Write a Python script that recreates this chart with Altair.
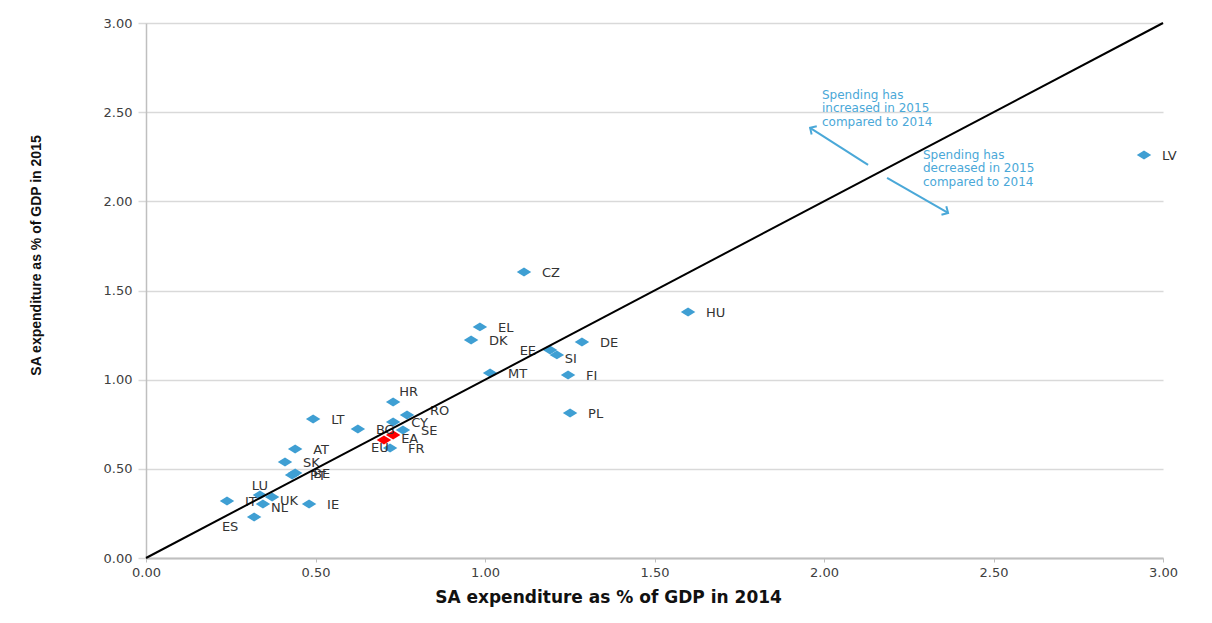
import altair as alt
import pandas as pd

countries = ["LV", "CZ", "HU", "EL", "DK", "DE", "EE", "SI", "MT", "FI", "PL",
             "HR", "RO", "CY", "SE", "BG", "EU", "EA", "FR", "LT", "AT", "SK",
             "PT", "BE", "LU", "UK", "IT", "NL", "IE", "ES"]
exp_2014 = [2.944, 1.115, 1.599, 0.985, 0.959, 1.286, 1.192, 1.212, 1.015, 1.245, 1.251,
            0.729, 0.770, 0.729, 0.758, 0.625, 0.702, 0.729, 0.720, 0.493, 0.440, 0.410,
            0.431, 0.440, 0.336, 0.372, 0.239, 0.345, 0.481, 0.319]
exp_2015 = [2.260, 1.604, 1.380, 1.296, 1.223, 1.211, 1.167, 1.139, 1.038, 1.026, 0.813,
            0.875, 0.802, 0.763, 0.718, 0.723, 0.662, 0.690, 0.617, 0.780, 0.611, 0.538,
            0.466, 0.477, 0.353, 0.342, 0.320, 0.303, 0.303, 0.230]
group = ["country"] * 16 + ["aggregate", "aggregate"] + ["country"] * 12
label_pos = ["right", "right", "right", "right", "right", "right", "left", "near", "right", "right", "right",
             "aboveright", "upright", "right", "right", "right", "belowleft", "near", "right", "right", "right", "right",
             "right", "right", "above", "near", "right", "near", "right", "farbelowleft"]

diag_x = [0, 3]
diag_y = [0, 3]

arrow_x1 = [2.130, 2.186]
arrow_y1 = [2.204, 2.131]
arrow_x2 = [1.959, 2.366]
arrow_y2 = [2.412, 1.935]
arrow_dir = ["up", "down"]

note_x = [1.994, 2.292]
note_y = [2.625, 2.290]
note_text = ["Spending has\nincreased in 2015\ncompared to 2014",
             "Spending has\ndecreased in 2015\ncompared to 2014"]

df = pd.DataFrame({"country": countries, "x": exp_2014, "y": exp_2015,
                   "group": group, "pos": label_pos})
diag = pd.DataFrame({"x": diag_x, "y": diag_y})
arrows = pd.DataFrame({"x": arrow_x1, "y": arrow_y1, "x2": arrow_x2, "y2": arrow_y2, "dir": arrow_dir})
notes = pd.DataFrame({"x": note_x, "y": note_y, "text": note_text})

BLUE = "#3f9fd3"
NOTE = "#4aa8d8"
xs = alt.Scale(domain=[0, 3], nice=False)
ys = alt.Scale(domain=[0, 3], nice=False)
ticks = [0, 0.5, 1, 1.5, 2, 2.5, 3]

xenc = alt.X("x:Q", scale=xs, axis=alt.Axis(
    values=ticks, format=".2f", grid=False, title="SA expenditure as % of GDP in 2014",
    domainColor="#bfbfbf", domainWidth=2, tickColor="#bfbfbf", tickSize=4, labelFlush=False,
    labelFont="DejaVu Sans", labelFontSize=13, labelColor="#404040", labelPadding=4,
    titleFont="DejaVu Sans", titleFontSize=17, titleFontWeight="bold", titleColor="#111111",
    titlePadding=10, titleX=462))
yenc = alt.Y("y:Q", scale=ys, axis=alt.Axis(
    values=ticks, format=".2f", grid=True, gridColor="#d9d9d9", gridWidth=1.5, labelFlush=False,
    title="SA expenditure as % of GDP in 2015",
    domainColor="#bfbfbf", domainWidth=1.5, tickColor="#d9d9d9", tickSize=8, tickWidth=1.5,
    labelFont="DejaVu Sans", labelFontSize=13, labelColor="#404040", labelPadding=6,
    titleFont="Liberation Sans", titleFontSize=14, titleFontWeight="bold", titleColor="#111111",
    titlePadding=60, titleY=232))

diamond = "M-1,0L0,-0.62L1,0L0,0.62Z"
base = alt.Chart(df)

points = base.mark_point(shape=diamond, filled=True, size=210, opacity=1).encode(
    x=xenc, y=yenc,
    color=alt.Color("group:N", scale=alt.Scale(domain=["country", "aggregate"], range=[BLUE, "#ff0000"]), legend=None),
    order=alt.Order("group:N", sort="descending"),
)

pos_cfg = {
    "right": dict(align="left", dx=18, dy=1),
    "near": dict(align="left", dx=8, dy=4),
    "left": dict(align="right", dx=-14, dy=1),
    "above": dict(align="center", dx=0, dy=-9),
    "aboveright": dict(align="left", dx=6, dy=-10),
    "upright": dict(align="left", dx=23, dy=-4),
    "belowleft": dict(align="center", dx=-4, dy=8),
    "farbelowleft": dict(align="center", dx=-24, dy=10),
}
labels = []
for p, cfg in pos_cfg.items():
    labels.append(
        base.transform_filter(alt.datum.pos == p).mark_text(
            font="DejaVu Sans", fontSize=13, color="#333333", baseline="middle", **cfg
        ).encode(x=alt.X("x:Q", scale=xs), y=alt.Y("y:Q", scale=ys), text="country:N")
    )

line = alt.Chart(diag).mark_line(color="#000000", strokeWidth=2).encode(
    x=alt.X("x:Q", scale=xs), y=alt.Y("y:Q", scale=ys))

arrow_lines = alt.Chart(arrows).mark_rule(color=NOTE, strokeWidth=2).encode(
    x=alt.X("x:Q", scale=xs), y=alt.Y("y:Q", scale=ys), x2="x2:Q", y2="y2:Q")

chevron = "M-0.6,0.6L0,0L0.6,0.6"
head_up = alt.Chart(arrows).transform_filter(alt.datum.dir == "up").mark_point(
    shape=chevron, filled=False, size=260, strokeWidth=2, color=NOTE, opacity=1, angle=302
).encode(x=alt.X("x2:Q", scale=xs), y=alt.Y("y2:Q", scale=ys))
head_down = alt.Chart(arrows).transform_filter(alt.datum.dir == "down").mark_point(
    shape=chevron, filled=False, size=260, strokeWidth=2, color=NOTE, opacity=1, angle=120
).encode(x=alt.X("x2:Q", scale=xs), y=alt.Y("y2:Q", scale=ys))

note_marks = alt.Chart(notes).mark_text(
    font="DejaVu Sans", fontSize=12, color=NOTE, align="left", baseline="top", lineBreak="\n", lineHeight=13.5
).encode(x=alt.X("x:Q", scale=xs), y=alt.Y("y:Q", scale=ys), text="text:N")

chart = alt.layer(points, *labels, line, arrow_lines, head_up, head_down, note_marks).properties(
    width=1017, height=535,
    padding={"left": 21, "top": 9, "right": 10, "bottom": 4},
    background="white",
).configure_view(strokeWidth=0)

chart.save("out.html", embed_options={"renderer": "svg", "actions": False})
